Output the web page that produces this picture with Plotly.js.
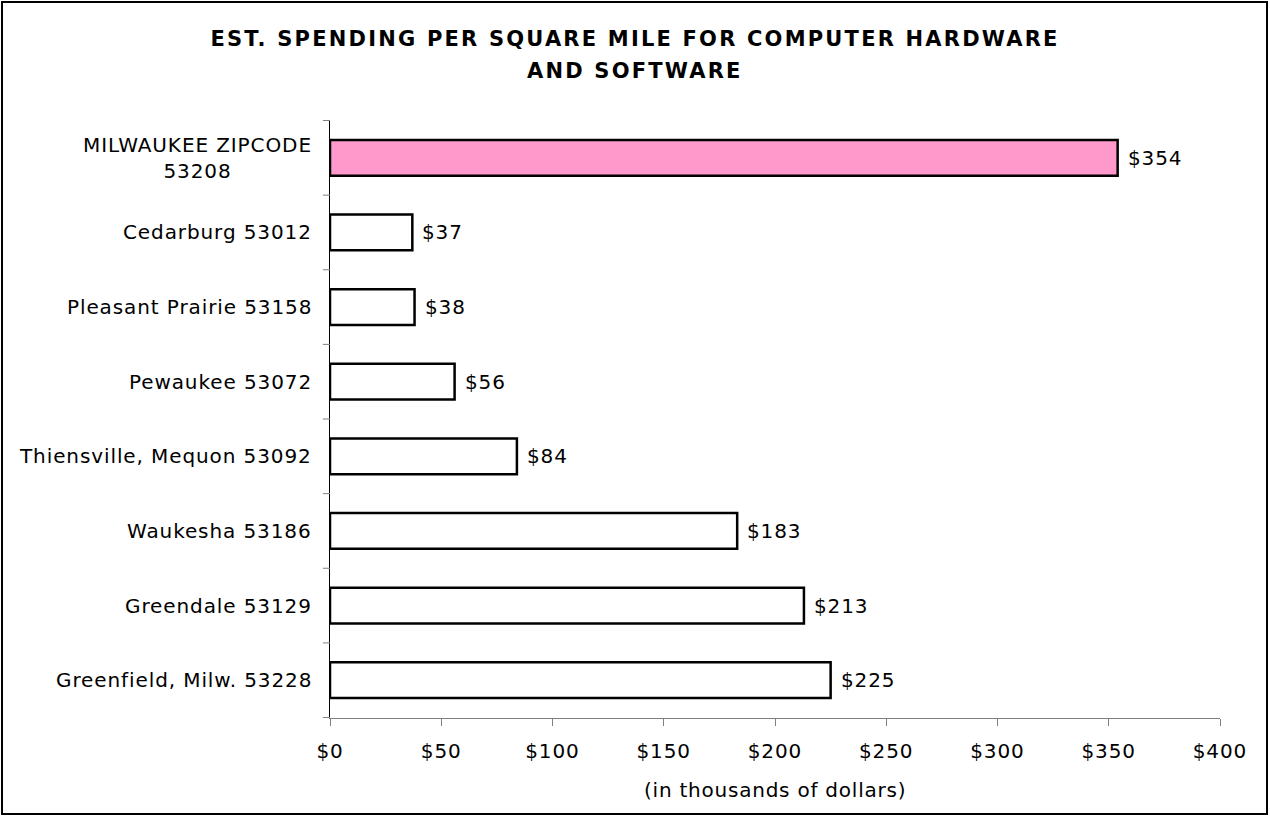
<!DOCTYPE html>
<html>
<head>
<meta charset="utf-8">
<script src="https://cdn.plot.ly/plotly-3.0.1.min.js"></script>
<style>
  html, body { margin: 0; padding: 0; background: #fff; }
  #chart { position: absolute; left: 0; top: 0; width: 1270px; height: 816px; }
  #frame { position: absolute; left: 1px; top: 1px; width: 1267px; height: 814px; box-sizing: border-box; border: 2px solid #000; pointer-events: none; }
</style>
</head>
<body>
<div id="chart"></div>
<div id="frame"></div>
<script>
// Categories listed top to bottom
const categories = [
  "MILWAUKEE ZIPCODE<br>53208",
  "Cedarburg 53012",
  "Pleasant Prairie 53158",
  "Pewaukee 53072",
  "Thiensville, Mequon 53092",
  "Waukesha 53186",
  "Greendale 53129",
  "Greenfield, Milw. 53228"
];
const spending = [354, 37, 38, 56, 84, 183, 213, 225];
const xTickValues = [0, 50, 100, 150, 200, 250, 300, 350, 400];
const xTickLabels = ["$0", "$50", "$100", "$150", "$200", "$250", "$300", "$350", "$400"];
const titleLine1 = "EST. SPENDING PER SQUARE MILE FOR COMPUTER HARDWARE";
const titleLine2 = "AND SOFTWARE";
const xAxisTitle = "(in thousands of dollars)";
const highlightColor = "#FF99CC";
const plainColor = "#FFFFFF";

const FONT = "DejaVu Sans, Verdana, sans-serif";
const SIZE = 20;
const LS = 0.9;

// letter-spacing wrapper (styling only)
function ls(text, px) {
  return text.split("<br>").map(t => "<span style='letter-spacing:" + px + "px'>" + t + "</span>").join("<br>");
}

const colors = categories.map((c, i) => i === 0 ? highlightColor : plainColor);

const trace = {
  type: "bar",
  orientation: "h",
  x: spending,
  y: categories,
  marker: { color: colors, line: { color: "#000", width: 2.5 } },
  hoverinfo: "none"
};

const annotations = [];
// category labels (centered multi-line)
categories.forEach(c => annotations.push({
  xref: "paper", yref: "y",
  x: 0, y: c,
  xshift: -16,
  xanchor: "right", yanchor: "middle",
  align: "center",
  text: ls(c, LS),
  showarrow: false,
  font: { family: FONT, size: SIZE, color: "#000" }
}));
// value labels
spending.forEach((v, i) => annotations.push({
  xref: "x", yref: "y",
  x: v, y: categories[i],
  xshift: 8,
  xanchor: "left", yanchor: "middle",
  text: ls("$" + v, LS),
  showarrow: false,
  font: { family: FONT, size: SIZE, color: "#000" }
}));
// title line 2
annotations.push({
  xref: "paper", yref: "paper",
  x: (635 - 330) / 890, y: 1.082,
  xanchor: "center", yanchor: "middle",
  text: "<b>" + ls(titleLine2, 2.2) + "</b>",
  showarrow: false,
  font: { family: FONT, size: 21, color: "#000" }
});
// x axis title
annotations.push({
  xref: "paper", yref: "paper",
  x: 0.5, y: -0.12,
  xanchor: "center", yanchor: "middle",
  text: ls(xAxisTitle, 0.77),
  showarrow: false,
  font: { family: FONT, size: SIZE, color: "#000" }
});

const layout = {
  width: 1270, height: 816,
  margin: { l: 330, r: 50, t: 120, b: 98 },
  paper_bgcolor: "#fff",
  plot_bgcolor: "#fff",
  bargap: 0.52,
  showlegend: false,
  title: {
    text: "<b>" + ls(titleLine1, 2.2) + "</b>",
    font: { family: FONT, size: 21, color: "#000" },
    xref: "container", x: 0.5, xanchor: "center",
    yref: "container", y: 1 - 39 / 816, yanchor: "middle"
  },
  xaxis: {
    range: [0, 400],
    tickvals: xTickValues,
    ticktext: xTickLabels.map(t => ls(t, LS)),
    ticks: "outside", ticklen: 7, tickcolor: "#808080", tickwidth: 1,
    ticklabelstandoff: 8,
    showline: true, linecolor: "#808080", linewidth: 1,
    showgrid: false, zeroline: false,
    tickfont: { family: FONT, size: SIZE, color: "#000" },
    fixedrange: true
  },
  yaxis: {
    type: "category",
    autorange: "reversed",
    showticklabels: false,
    ticks: "",
    showline: true, linecolor: "#000", linewidth: 1,
    showgrid: false, zeroline: false,
    fixedrange: true
  },
  shapes: [],
  annotations: annotations
};

// tick marks on y axis at category boundaries
for (let i = 0; i <= categories.length; i++) {
  layout.shapes.push({
    type: "line", xref: "paper", yref: "y",
    x0: -0.008, x1: 0, y0: i - 0.5, y1: i - 0.5,
    line: { color: "#808080", width: 1 }
  });
}

Plotly.newPlot("chart", [trace], layout, { displayModeBar: false, staticPlot: true });
</script>
</body>
</html>
